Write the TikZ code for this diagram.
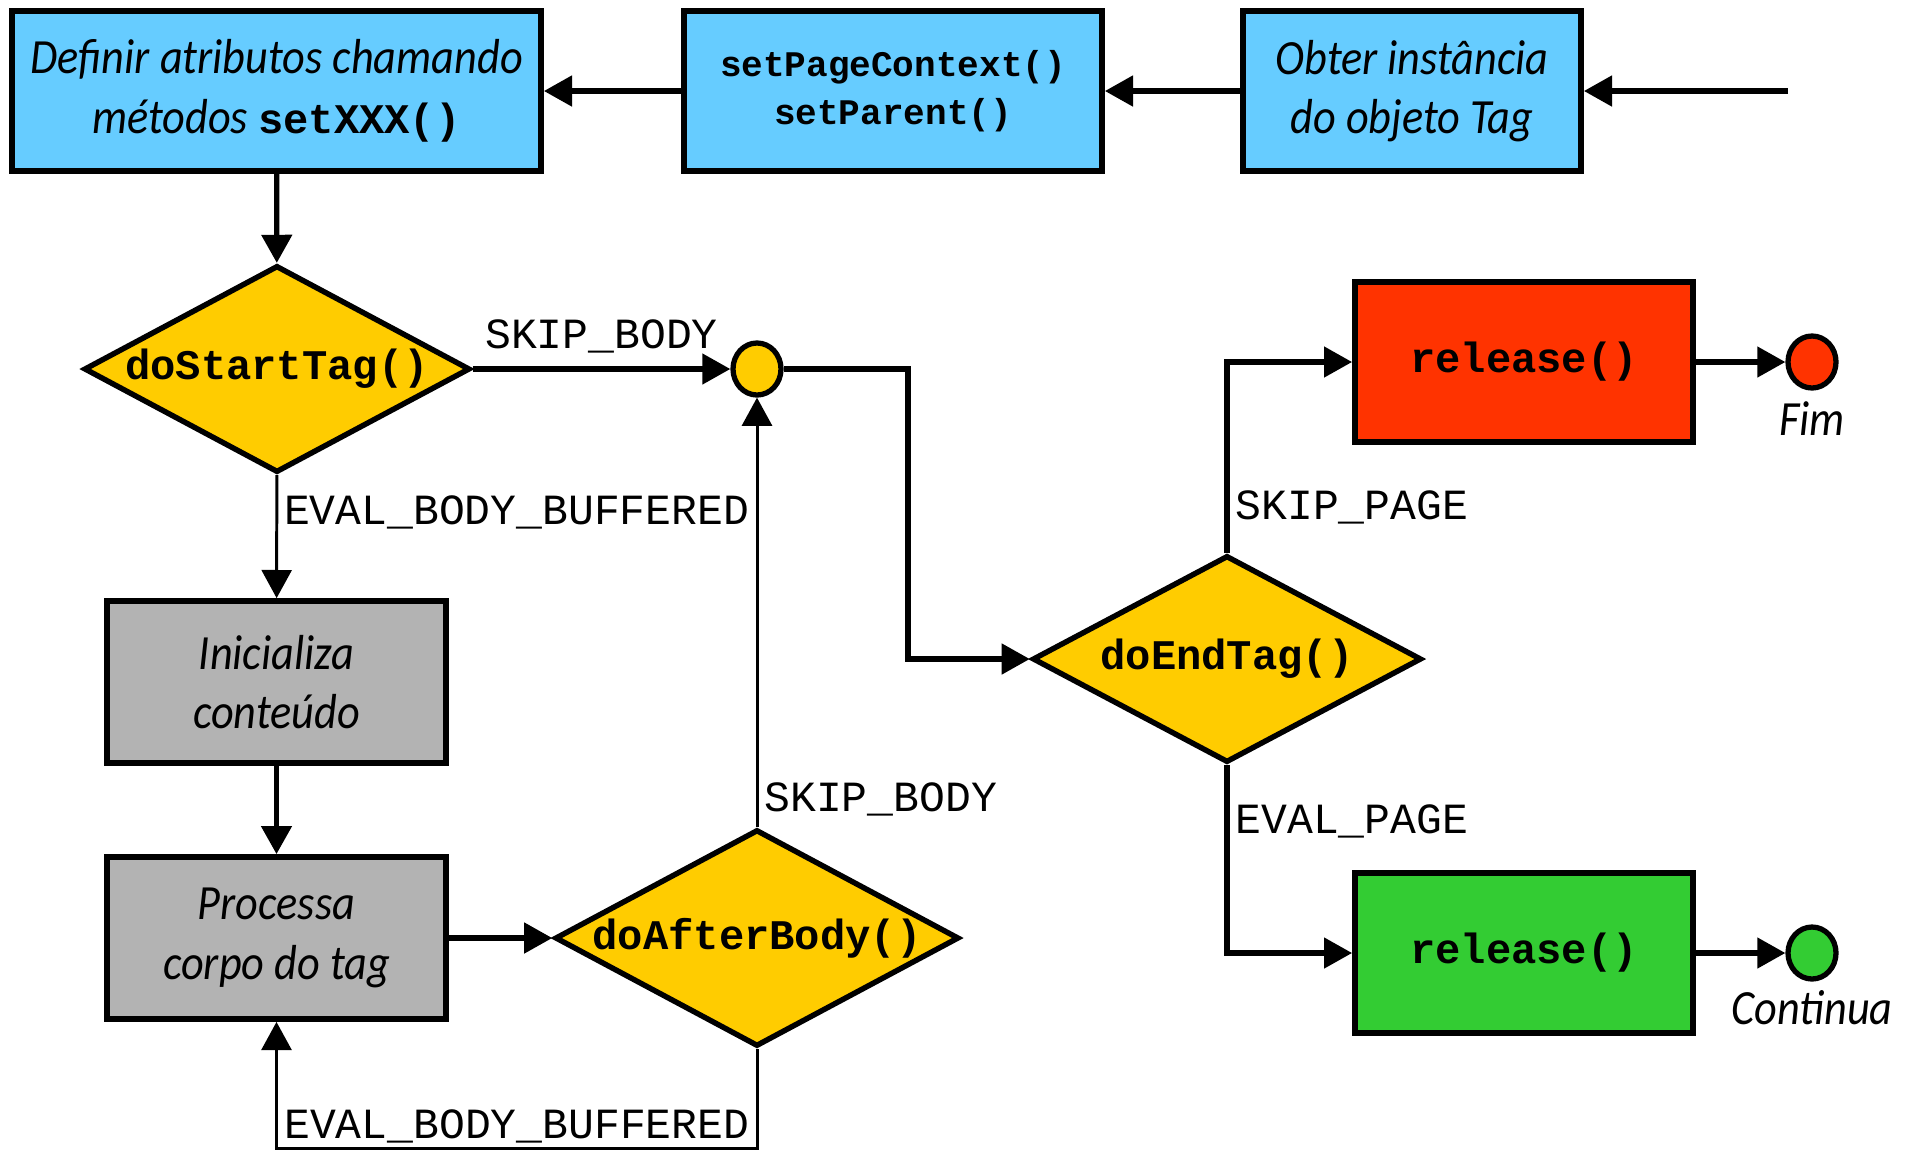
\documentclass[tikz,border=0pt]{standalone}
\usepackage{fontspec}
\setmainfont{Carlito}[FakeStretch=0.9]
\setmonofont{Liberation Mono}
\usetikzlibrary{arrows.meta,shapes.geometric,positioning}

\definecolor{callblue}{HTML}{66CCFF}
\definecolor{testyellow}{HTML}{FFCC00}
\definecolor{bodygray}{HTML}{B3B3B3}
\definecolor{finred}{HTML}{FF3300}
\definecolor{goongreen}{HTML}{33CC33}

\newcommand{\prosefont}{\fontsize{28}{34}\selectfont\itshape}
\newcommand{\codefont}{\fontsize{24}{34}\selectfont\ttfamily\bfseries\upshape}
\newcommand{\retfont}{\fontsize{24.5}{28}\selectfont\ttfamily}
\newcommand{\meth}[1]{{\codefont #1}}

\tikzset{
    stepbox/.style={
        rectangle,
        draw=black,
        line width=3.3pt,
        minimum height=3.2cm,
        inner sep=4pt,
        align=center,
        font=\prosefont
    },
    callbox/.style={
        stepbox,
        fill=callblue
    },
    bodybox/.style={
        stepbox,
        fill=bodygray,
        minimum width=6.78cm,
        minimum height=3.24cm
    },
    releasebox/.style={
        stepbox,
        minimum width=6.76cm,
        font=\codefont
    },
    testdiamond/.style={
        diamond,
        draw=black,
        fill=testyellow,
        line width=3.1pt,
        aspect=1.86,
        inner sep=0pt,
        minimum height=4.14cm,
        font=\codefont
    },
    enddot/.style={
        ellipse,
        draw=black,
        line width=3pt,
        inner sep=0pt,
        minimum width=0.96cm,
        minimum height=1.04cm
    },
    flow/.style={
        -{Triangle[length=16pt,width=17pt]},
        line width=3pt
    },
    thinflow/.style={
        flow,
        line width=1.7pt
    },
    retlabel/.style={
        font=\retfont
    }
}

\begin{document}
\begin{tikzpicture}
    \useasboundingbox (0,0) rectangle (38.22,-23.02);

    % --- top row: tag setup ---
    \node[callbox, minimum width=10.58cm] (setattrs) at (5.53,-1.82)
        {Definir atributos chamando\\m\'etodos \meth{setXXX()}};
    \node[callbox, minimum width=8.36cm, font=\fontsize{20.5}{27}\selectfont\ttfamily\bfseries] (setctx) at (17.86,-1.82)
        {setPageContext()\\setParent()};
    \node[callbox, minimum width=6.76cm] (gettag) at (28.24,-1.82)
        {Obter inst\^ancia\\do objeto Tag};
    \coordinate (entry) at (35.76,-1.82);

    \draw[flow] (entry) -- (gettag);
    \draw[flow] (gettag) -- (setctx);
    \draw[flow] (setctx) -- (setattrs);

    % --- start tag and body ---
    \node[testdiamond, minimum width=7.72cm] (starttag) at (5.54,-7.38) {doStartTag()};
    \node[enddot, fill=testyellow] (skipjoin) at (15.14,-7.38) {};
    \node[bodybox] (initbody) at (5.53,-13.64) {Inicializa\\conte\'udo};
    \node[bodybox] (procbody) at (5.53,-18.76) {Processa\\corpo do tag};
    \node[testdiamond, minimum width=8.08cm] (afterbody) at (15.14,-18.76) {doAfterBody()};
    \coordinate (loopbase) at (15.14,-22.96);

    \draw[flow] (setattrs) -- (starttag);
    \draw[flow] (starttag) -- node[above=4pt, retlabel] {SKIP\_BODY} (skipjoin);
    \draw[thinflow] (starttag) -- node[pos=0.3, right, retlabel] {EVAL\_BODY\_BUFFERED} (initbody);
    \draw[flow] (initbody) -- (procbody);
    \draw[flow] (procbody) -- (afterbody);
    \draw[thinflow] (afterbody) -- node[pos=0.065, right, retlabel] {SKIP\_BODY} (skipjoin);
    \draw[thinflow] (afterbody.south) -- (loopbase)
        -| node[pos=0.25, above, inner sep=2pt, retlabel] {EVAL\_BODY\_BUFFERED} (procbody.south);

    % --- end tag and release ---
    \node[testdiamond, minimum width=7.78cm] (endtag) at (24.54,-13.18) {doEndTag()};
    \coordinate (bend) at (18.16,-7.38);
    \node[releasebox, fill=finred] (relstop) at (30.48,-7.24) {release()};
    \node[releasebox, fill=goongreen] (relgo) at (30.48,-19.06) {release()};
    \node[enddot, fill=finred] (stopdot) at (36.24,-7.24) {};
    \node[enddot, fill=goongreen] (godot) at (36.24,-19.06) {};
    \node[below=0.1cm of stopdot, font=\prosefont] (stoptext) {Fim};
    \node[below=0.06cm of godot, font=\prosefont] (gotext) {Continua};

    \draw[flow] (skipjoin) -- (bend) |- (endtag);
    \draw[flow] (endtag.north) |- node[pos=0.12, right, retlabel] {SKIP\_PAGE} (relstop.west);
    \draw[flow] (endtag.south) |- node[pos=0.15, right, retlabel] {EVAL\_PAGE} (relgo.west);
    \draw[flow] (relstop) -- (stopdot);
    \draw[flow] (relgo) -- (godot);
\end{tikzpicture}
\end{document}
